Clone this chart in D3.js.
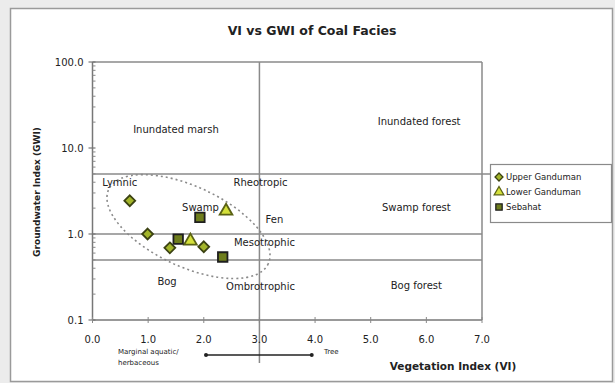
<!DOCTYPE html>
<html>
<head>
<meta charset="utf-8">
<script src="https://cdn.jsdelivr.net/npm/d3@7"></script>
<style>
  html, body { margin: 0; padding: 0; background: #ececec; }
  svg { display: block; }
  text { font-family: "DejaVu Sans", Verdana, sans-serif; fill: #222; }
</style>
</head>
<body>
<svg id="chart" width="615" height="383"></svg>
<script>
// Series: vegetation index (VI) and groundwater index (GWI) per sample
const seriesNames = ["Upper Ganduman", "Lower Ganduman", "Sebahat"];
const upperVI  = [0.67, 0.99, 1.39, 2.00];
const upperGWI = [2.44, 1.00, 0.69, 0.71];
const lowerVI  = [1.76, 2.40];
const lowerGWI = [0.83, 1.85];
const sebahatVI  = [1.54, 1.93, 2.34];
const sebahatGWI = [0.87, 1.56, 0.54];

// Axis ticks
const xTicks = [0, 1, 2, 3, 4, 5, 6, 7];
const yTicks = [0.1, 1, 10, 100];

// Facies field boundaries
const boundaryVI  = [3];
const boundaryGWI = [0.5, 1, 5];

// Field names and their anchor (VI, GWI)
const zoneNames = ["Inundated marsh", "Inundated forest", "Swamp forest", "Bog forest",
                   "Rheotropic", "Fen", "Mesotrophic", "Ombrotrophic", "Bog", "Lymnic", "Swamp"];
const zoneVI  = [1.50, 5.87, 5.82, 5.82, 3.02, 3.27, 3.09, 3.02, 1.34, 0.49, 1.94];
const zoneGWI = [16.6, 20.6, 2.06, 0.255, 4.02, 1.49, 0.79, 0.242, 0.277, 4.02, 2.06];

// Facies cluster outline: centre (VI, GWI)
const clusterVI = 1.725, clusterGWI = 1.22;

const svg = d3.select("#chart");

// chart area
svg.append("rect").attr("x", 10.5).attr("y", 8.5).attr("width", 602).attr("height", 373)
  .attr("fill", "#fff").attr("stroke", "#9a9a9a").attr("stroke-width", 1.5);

const x = d3.scaleLinear().domain([0, 7]).range([92.5, 482]);
const y = d3.scaleLog().domain([0.1, 100]).range([320, 62]);

const lineCol = "#8a8a8a";

// title
svg.append("text").attr("x", 312).attr("y", 35).attr("text-anchor", "middle")
  .attr("font-size", 12.5).attr("font-weight", "bold").text("VI vs GWI of Coal Facies");

// plot frame (top & right)
svg.append("line").attr("x1", x(0)).attr("x2", x(7)).attr("y1", y(100)).attr("y2", y(100))
  .attr("stroke", lineCol).attr("stroke-width", 1.5);
svg.append("line").attr("x1", x(7)).attr("x2", x(7)).attr("y1", y(100)).attr("y2", y(0.1))
  .attr("stroke", lineCol).attr("stroke-width", 1.5);

// field boundaries
svg.selectAll(".hb").data(boundaryGWI).join("line")
  .attr("x1", x(0)).attr("x2", d => d === 5 ? 490 : x(7))
  .attr("y1", d => y(d)).attr("y2", d => y(d))
  .attr("stroke", lineCol).attr("stroke-width", 1.5);
svg.selectAll(".vb").data(boundaryVI).join("line")
  .attr("x1", d => x(d)).attr("x2", d => x(d))
  .attr("y1", y(100)).attr("y2", 363)
  .attr("stroke", lineCol).attr("stroke-width", 1.5);

// axes
const yAxisG = svg.append("g").attr("transform", `translate(${x(0)},0)`);
yAxisG.append("line").attr("y1", y(100)).attr("y2", y(0.1)).attr("stroke", "#777").attr("stroke-width", 1.5);
const minor = [];
for (let dec = 0.1; dec < 100; dec *= 10) for (let k = 2; k <= 9; k++) minor.push(+(dec * k).toPrecision(3));
yAxisG.selectAll(".mt").data(minor).join("line")
  .attr("x1", 0).attr("x2", 3).attr("y1", d => y(d)).attr("y2", d => y(d))
  .attr("stroke", "#888").attr("stroke-width", 1);
yAxisG.selectAll(".Mt").data(yTicks).join("line")
  .attr("x1", -4).attr("x2", 3).attr("y1", d => y(d)).attr("y2", d => y(d))
  .attr("stroke", "#777").attr("stroke-width", 1.2);
yAxisG.selectAll(".yl").data(yTicks).join("text")
  .attr("x", -9).attr("y", d => y(d)).attr("dy", "0.35em").attr("text-anchor", "end")
  .attr("font-size", 10).attr("fill", "#333").text(d => d3.format(".1f")(d));

const xAxisG = svg.append("g").attr("transform", `translate(0,${y(0.1)})`);
xAxisG.append("line").attr("x1", x(0)).attr("x2", x(7)).attr("stroke", "#777").attr("stroke-width", 1.5);
xAxisG.selectAll(".xt").data(xTicks).join("line")
  .attr("x1", d => x(d)).attr("x2", d => x(d)).attr("y1", -3).attr("y2", 3)
  .attr("stroke", "#888").attr("stroke-width", 1);
xAxisG.selectAll(".xl").data(xTicks).join("text")
  .attr("x", d => x(d)).attr("y", 23).attr("text-anchor", "middle")
  .attr("font-size", 10).attr("fill", "#333").text(d => d3.format(".1f")(d));

// axis titles
svg.append("text").attr("transform", "translate(40,192) rotate(-90)")
  .attr("text-anchor", "middle").attr("font-size", 9).attr("font-weight", "bold")
  .text("Groundwater Index (GWI)");
svg.append("text").attr("x", 453).attr("y", 370).attr("text-anchor", "middle")
  .attr("font-size", 10.5).attr("font-weight", "bold").text("Vegetation Index (VI)");

// vegetation scale arrow below the axis
svg.append("line").attr("x1", x(2.04)).attr("x2", x(3.94)).attr("y1", 355).attr("y2", 355)
  .attr("stroke", "#222").attr("stroke-width", 1.3);
svg.selectAll(".ad").data([2.04, 3.94]).join("circle")
  .attr("cx", d => x(d)).attr("cy", 355).attr("r", 2).attr("fill", "#222");
svg.append("text").attr("x", 118).attr("y", 354).attr("font-size", 7).attr("fill", "#444")
  .text("Marginal aquatic/");
svg.append("text").attr("x", 118).attr("y", 365).attr("font-size", 7).attr("fill", "#444")
  .text("herbaceous");
svg.append("text").attr("x", 324).attr("y", 354).attr("font-size", 7).attr("fill", "#444")
  .text("Tree");

// cluster outline
svg.append("ellipse")
  .attr("cx", 0).attr("cy", 0).attr("rx", 88).attr("ry", 40)
  .attr("transform", `translate(${x(clusterVI)},${y(clusterGWI)}) rotate(25)`)
  .attr("fill", "none").attr("stroke", "#8a8a8a").attr("stroke-width", 1.6)
  .attr("stroke-dasharray", "2,3");

// field names
svg.selectAll(".zn").data(zoneNames).join("text")
  .attr("x", (d, i) => x(zoneVI[i])).attr("y", (d, i) => y(zoneGWI[i]))
  .attr("dy", "0.35em").attr("text-anchor", "middle")
  .attr("font-size", 10).attr("fill", "#222").text(d => d);

// markers
const styles = [
  { type: d3.symbolDiamond2, size: 75, fill: "#a3b52a", stroke: "#3b4212" },
  { type: d3.symbolTriangle, size: 70, fill: "#d4e03a", stroke: "#5a6214" },
  { type: d3.symbolSquare, size: 90, fill: "#6e7d1c", stroke: "#1e1e1e" }
];
const seriesVI = [upperVI, lowerVI, sebahatVI];
const seriesGWI = [upperGWI, lowerGWI, sebahatGWI];
seriesVI.forEach((vis, s) => {
  const st = styles[s];
  svg.selectAll(".p" + s).data(vis).join("path")
    .attr("transform", (d, i) => `translate(${x(d)},${y(seriesGWI[s][i])})`)
    .attr("d", d3.symbol().type(st.type).size(st.size))
    .attr("fill", st.fill).attr("stroke", st.stroke).attr("stroke-width", 1.8);
});

// legend
const lg = svg.append("g").attr("transform", "translate(490,164)");
lg.append("rect").attr("x", 0.5).attr("y", 0.5).attr("width", 121).attr("height", 58)
  .attr("fill", "#fff").attr("stroke", "#8a8a8a").attr("stroke-width", 1.2);
seriesNames.forEach((name, i) => {
  const st = styles[i];
  lg.append("path").attr("transform", `translate(9,${13 + i * 15})`)
    .attr("d", d3.symbol().type(st.type).size(40))
    .attr("fill", st.fill).attr("stroke", st.stroke).attr("stroke-width", 1.3);
  lg.append("text").attr("x", 16).attr("y", 13 + i * 15).attr("dy", "0.35em")
    .attr("font-size", 8.5).attr("fill", "#444").text(name);
});
</script>
</body>
</html>
